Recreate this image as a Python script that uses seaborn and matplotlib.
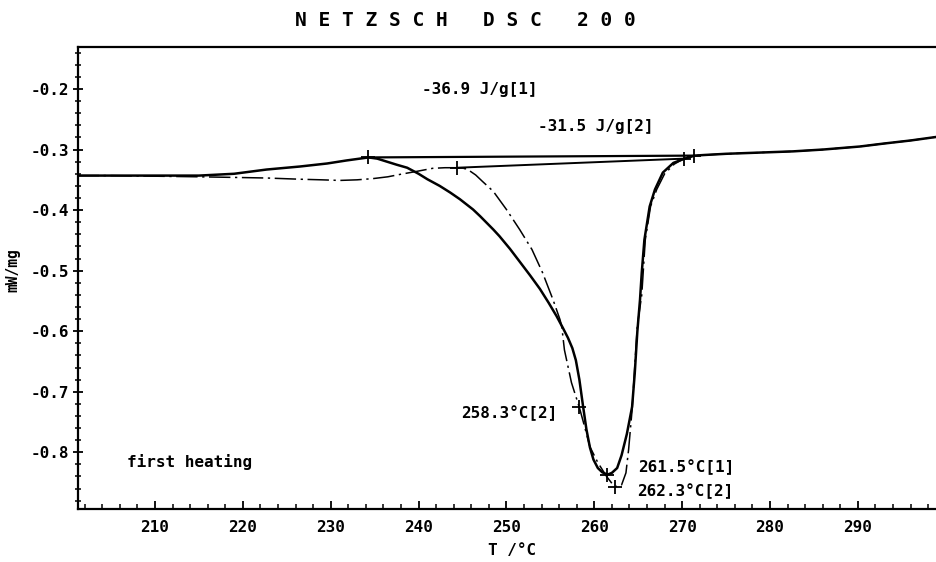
import matplotlib
matplotlib.use("Agg")
import matplotlib.pyplot as plt
from matplotlib.ticker import MultipleLocator, FormatStrFormatter
import numpy as np
import pandas as pd
import seaborn as sns

# DSC first heating, run [1] (solid) and run [2] (dash-dot)
temp_run1 = [201.2, 205, 210, 215, 219, 222.7, 226.5, 229.6, 231.8, 233.3, 234.3,
             235.3, 236.4, 237.5, 238.7, 240.0, 241.0, 242.4, 243.6, 244.7, 246.2,
             247.0, 248.5, 249.2, 250.4, 251.5, 252.7, 253.8, 254.8, 255.7, 256.4,
             257.0, 257.5, 257.9, 258.3, 258.7, 259.1, 259.5, 259.9, 260.4, 260.9,
             261.5, 262.0, 262.6, 263.1, 263.7, 264.3, 264.6, 264.9, 265.2, 265.4,
             265.7, 266.3, 266.9, 267.8, 269.0, 270.1, 271.4, 272.5, 275, 278.8,
             282.6, 286, 290.2, 293, 296, 299]
signal_run1 = [-0.343, -0.343, -0.343, -0.343, -0.340, -0.333, -0.328, -0.323, -0.318,
               -0.315, -0.313, -0.315, -0.320, -0.325, -0.330, -0.340, -0.349, -0.360,
               -0.371, -0.382, -0.399, -0.410, -0.432, -0.443, -0.464, -0.485, -0.508,
               -0.530, -0.553, -0.575, -0.594, -0.611, -0.628, -0.648, -0.680, -0.722,
               -0.762, -0.792, -0.812, -0.826, -0.833, -0.837, -0.834, -0.826, -0.805,
               -0.770, -0.725, -0.670, -0.600, -0.548, -0.503, -0.449, -0.394, -0.366,
               -0.338, -0.322, -0.316, -0.310, -0.309, -0.307, -0.305, -0.303, -0.300,
               -0.295, -0.290, -0.285, -0.279]

temp_run2 = [201.2, 205, 210, 215, 219, 222.7, 226.5, 229, 231, 233, 234.8, 236.5,
             237.9, 239.8, 241.6, 243.0, 244.4, 245.5, 246.5, 247.3, 248.5, 250.0,
             251.5, 252.9, 254.1, 255.3, 256.1, 256.3, 256.6, 257.4, 258.3, 258.9,
             259.5, 260.4, 261.4, 262.3, 263.1, 263.6, 263.9, 264.3, 264.6, 264.9,
             265.4, 265.8, 266.4, 267.1, 268.0, 269.1, 270.2, 271.4, 272.5, 275,
             278.8, 282.6, 286, 290.2, 293, 296, 299]
signal_run2 = [-0.343, -0.343, -0.344, -0.345, -0.346, -0.347, -0.349, -0.350, -0.351,
               -0.350, -0.348, -0.345, -0.341, -0.336, -0.331, -0.330, -0.330, -0.332,
               -0.342, -0.353, -0.369, -0.399, -0.432, -0.465, -0.503, -0.548, -0.581,
               -0.593, -0.631, -0.685, -0.726, -0.758, -0.791, -0.817, -0.840, -0.857,
               -0.854, -0.834, -0.796, -0.730, -0.659, -0.590, -0.540, -0.449, -0.394,
               -0.366, -0.340, -0.324, -0.315, -0.310, -0.309, -0.307, -0.305, -0.303,
               -0.300, -0.295, -0.290, -0.285, -0.279]

# integration limits (onset / end) for the peak areas
limits_run1_T = [234.3, 271.4]
limits_run1_y = [-0.313, -0.310]
limits_run2_T = [244.4, 270.2]
limits_run2_y = [-0.330, -0.315]

# characteristic temperatures
peak_run1_T, peak_run1_y = 261.5, -0.837
peak_run2_T, peak_run2_y = 262.3, -0.857
shoulder_run2_T, shoulder_run2_y = 258.3, -0.726

enthalpy_run1 = -36.9
enthalpy_run2 = -31.5

sns.set_style("ticks")
plt.rcParams["font.family"] = ["DejaVu Sans Mono", "DejaVu Sans"]
plt.rcParams["font.weight"] = "bold"
plt.rcParams["axes.labelweight"] = "bold"
plt.rcParams["axes.unicode_minus"] = False
plt.rcParams["text.color"] = "black"
plt.rcParams["axes.labelcolor"] = "black"
plt.rcParams["xtick.color"] = "black"
plt.rcParams["ytick.color"] = "black"

fig = plt.figure(figsize=(9.37, 5.62), dpi=100)
ax = fig.add_axes([78 / 937, 1 - 509 / 562, 1 - 78 / 937, (509 - 47) / 562])

run1 = pd.DataFrame({"T": temp_run1, "P": signal_run1})
run2 = pd.DataFrame({"T": temp_run2, "P": signal_run2})

sns.lineplot(data=run1, x="T", y="P", ax=ax, color="black", lw=1.8,
             sort=False, estimator=None)
sns.lineplot(data=run2, x="T", y="P", ax=ax, color="black", lw=1.1,
             sort=False, estimator=None)
ax.lines[-1].set_linestyle((0, (14, 3, 1.5, 3)))

# baselines
sns.lineplot(x=limits_run1_T, y=limits_run1_y, ax=ax, color="black", lw=1.6,
             estimator=None)
sns.lineplot(x=limits_run2_T, y=limits_run2_y, ax=ax, color="black", lw=1.4,
             estimator=None)

# cross marks
mark_T = limits_run1_T + limits_run2_T + [peak_run1_T, peak_run2_T, shoulder_run2_T]
mark_y = limits_run1_y + limits_run2_y + [peak_run1_y, peak_run2_y, shoulder_run2_y]
ax.plot(mark_T, mark_y, linestyle="none", marker="+", color="black",
        markersize=10, markeredgewidth=1.3)

fs = 11.5
ax.text(240.4, -0.2016, f"{enthalpy_run1:.1f} J/g[1]", ha="left", va="center", fontsize=fs)
ax.text(253.6, -0.262, f"{enthalpy_run2:.1f} J/g[2]", ha="left", va="center", fontsize=fs)
ax.text(206.8, -0.8157, "first heating", ha="left", va="center", fontsize=fs)
ax.text(255.85, -0.735, f"{shoulder_run2_T:.1f}°C[2]", ha="right", va="center", fontsize=fs)
ax.text(264.95, -0.8256, f"{peak_run1_T:.1f}°C[1]", ha="left", va="center", fontsize=fs)
ax.text(264.83, -0.865, f"{peak_run2_T:.1f}°C[2]", ha="left", va="center", fontsize=fs)

ax.set_xlim(201.24, 299.0)
ax.set_ylim(-0.8937, -0.1306)

ax.set_xticks(np.arange(210, 291, 10))
ax.set_yticks([-0.8, -0.7, -0.6, -0.5, -0.4, -0.3, -0.2])
ax.yaxis.set_major_formatter(FormatStrFormatter("%.1f"))
ax.xaxis.set_minor_locator(MultipleLocator(2))
ax.yaxis.set_minor_locator(MultipleLocator(0.02))

ax.tick_params(axis="x", which="major", direction="in", length=6, width=1.3,
               labelsize=fs, pad=8)
ax.tick_params(axis="x", which="minor", direction="in", length=3.5, width=1.1)
ax.tick_params(axis="y", which="major", direction="inout", length=7, width=1.3,
               labelsize=fs, pad=3)
ax.tick_params(axis="y", which="minor", direction="inout", length=4, width=1.1)

for side in ("left", "bottom", "top"):
    ax.spines[side].set_linewidth(1.6)
    ax.spines[side].set_color("black")
ax.spines["right"].set_visible(False)

ax.set_xlabel("T /°C", fontsize=fs, fontweight="bold")
ax.xaxis.set_label_coords((512 - 78) / 859, (509 - 543) / 462)
ax.set_ylabel("mW/mg", fontsize=10.5, fontweight="bold")
ax.yaxis.set_label_coords((20 - 78) / 859, (509 - 270) / 462)

fig.text(465 / 937, 1 - 20 / 562, "N E T Z S C H   D S C   2 0 0",
         ha="center", va="center", fontsize=14, fontweight="bold")

fig.savefig("out.png", dpi=100, facecolor="white")
